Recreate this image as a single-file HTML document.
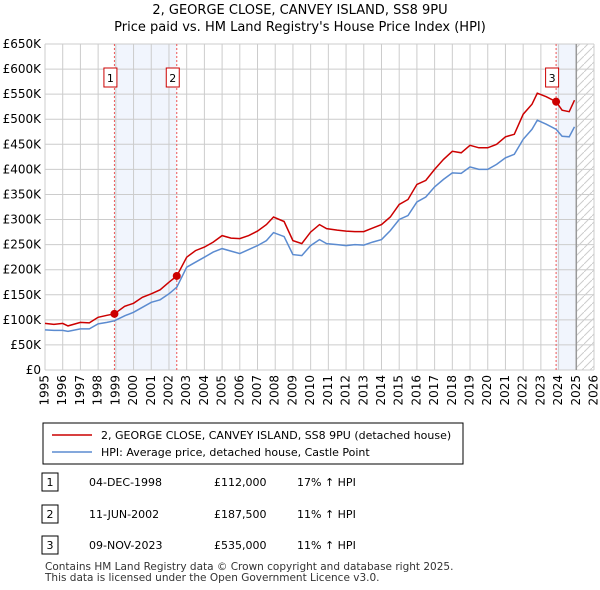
<!DOCTYPE html>
<html><head><meta charset="utf-8"><style>
body{margin:0;background:#fff;font-family:"DejaVu Sans","Liberation Sans",sans-serif;}
#wrap{position:relative;width:600px;height:590px;overflow:hidden}
svg text{font-family:"DejaVu Sans","Liberation Sans",sans-serif;}
</style></head><body><div id="wrap">
<svg id="c" width="600" height="590" style="position:absolute;left:0;top:0"></svg>
</div>
<script>
const years=[1995,1996,1997,1998,1999,2000,2001,2002,2003,2004,2005,2006,2007,2008,2009,2010,2011,2012,2013,2014,2015,2016,2017,2018,2019,2020,2021,2022,2023,2024,2025,2026];
const yTicks=[0,50,100,150,200,250,300,350,400,450,500,550,600,650];
const redT=[1995,1995.5,1996,1996.3,1997,1997.5,1998,1998.5,1998.92,1999.5,2000,2000.5,2001,2001.5,2002,2002.44,2003,2003.5,2004,2004.5,2005,2005.5,2006,2006.5,2007,2007.5,2007.9,2008.5,2009,2009.5,2010,2010.5,2010.9,2011.5,2012,2012.5,2013,2013.5,2014,2014.5,2015,2015.5,2016,2016.5,2017,2017.5,2018,2018.5,2019,2019.5,2020,2020.5,2021,2021.5,2022,2022.5,2022.8,2023.3,2023.86,2024.2,2024.6,2024.9];
const redV=[93,91,93,88,95,94,105,109,112,127,133,145,152,160,175,187.5,225,238,245,255,268,263,262,268,277,290,305,296,258,252,275,290,282,279,277,276,276,283,290,305,330,340,370,378,400,420,436,433,448,443,443,450,465,470,510,530,552,545,535,518,515,538];
const hpiV=[80,79,79,77,82,82,92,95,98,108,115,125,135,140,152,165,205,215,225,235,242,237,232,240,248,258,274,266,230,228,248,260,252,250,248,250,249,255,260,278,300,308,335,345,365,380,393,392,405,400,400,410,423,430,460,480,498,490,480,466,465,485];
const salesT=[1998.92,2002.44,2023.86];
const salesV=[112,187.5,535];
const X0=45,X1=594,Y0=370,Y1=44;
const x=t=>X0+(t-1995)/(2026-1995)*(X1-X0);
const y=v=>Y0-v/650*(Y0-Y1);
const svg=document.getElementById('c');
const NS='http://www.w3.org/2000/svg';
function mk(tag,a,p){const e=document.createElementNS(NS,tag);for(const k in a)e.setAttribute(k,a[k]);(p||svg).appendChild(e);return e;}
let e;
e=mk('rect',{x:x(salesT[0]),y:Y1,width:x(salesT[1])-x(salesT[0]),height:Y0-Y1,fill:'#f1f5fd'});


e=mk('rect',{x:x(salesT[2]),y:Y1,width:x(2025)-x(salesT[2]),height:Y0-Y1,fill:'#f1f5fd'});


const defs=mk('defs',{});
const pat=mk('pattern',{id:'h',width:8,height:8,patternUnits:'userSpaceOnUse'},defs);
mk('path',{d:'M0,8 L8,0',stroke:'#ccc','stroke-width':1},pat);
e=mk('rect',{x:x(2025),y:Y1,width:X1-x(2025),height:Y0-Y1,fill:'url(#h)'});


years.forEach(yr=>{mk('line',{x1:x(yr),x2:x(yr),y1:Y1,y2:Y0,stroke:'#ccc'});
 e=mk('text',{x:x(yr),y:Y0+5,'font-size':12,'text-anchor':'end','dominant-baseline':'middle',transform:`rotate(-90 ${x(yr)} ${Y0+5})`});e.textContent=yr;
 
 });
yTicks.forEach(v=>{mk('line',{x1:X0,x2:X1,y1:y(v),y2:y(v),stroke:'#ccc'});
 e=mk('text',{x:X0-4,y:y(v)+4,'font-size':12,'text-anchor':'end'});e.textContent=v===0?'£0':'£'+v+'K';
 
 });
mk('line',{x1:x(2025),x2:x(2025),y1:Y1,y2:Y0,stroke:'#999','stroke-width':1.5});
salesT.forEach((t,i)=>{mk('line',{x1:x(t),x2:x(t),y1:Y1,y2:Y0,stroke:'#e55','stroke-dasharray':'2,2'});});
function path(T,V){return T.map((t,i)=>(i?'L':'M')+x(t).toFixed(1)+','+y(V[i]).toFixed(1)).join('');}
e=mk('path',{d:path(redT,hpiV),fill:'none',stroke:'#5b8bd0','stroke-width':1.5});


e=mk('path',{d:path(redT,redV),fill:'none',stroke:'#cc0000','stroke-width':1.5});


salesT.forEach((t,i)=>{e=mk('circle',{cx:x(t),cy:y(salesV[i]),r:4,fill:'#cc0000'});
 
 
 const bx=x(t)-10.5;
 mk('rect',{x:bx,y:68,width:13,height:19,fill:'#fff',stroke:'#cc0000'});
 const tx=mk('text',{x:bx+6.5,y:82,'font-size':11,'text-anchor':'middle'});tx.textContent=i+1;
 
 });
e=mk('text',{x:300,y:14,'font-size':13,'text-anchor':'middle'});e.textContent='2, GEORGE CLOSE, CANVEY ISLAND, SS8 9PU';


e=mk('text',{x:300,y:31,'font-size':13,'text-anchor':'middle'});e.textContent="Price paid vs. HM Land Registry's House Price Index (HPI)";


e=mk('rect',{x:43,y:423,width:420,height:41,fill:'#fff',stroke:'#000'});


mk('line',{x1:52,x2:92,y1:435,y2:435,stroke:'#cc0000','stroke-width':1.5});
e=mk('text',{x:101,y:439,'font-size':11});e.textContent='2, GEORGE CLOSE, CANVEY ISLAND, SS8 9PU (detached house)';


mk('line',{x1:52,x2:92,y1:452,y2:452,stroke:'#5b8bd0','stroke-width':1.5});
e=mk('text',{x:101,y:456,'font-size':11});e.textContent='HPI: Average price, detached house, Castle Point';


const dates=['04-DEC-1998','11-JUN-2002','09-NOV-2023'],prices=['£112,000','£187,500','£535,000'],pct=['17% ↑ HPI','11% ↑ HPI','11% ↑ HPI'];
[482,514,545].forEach((ry,i)=>{mk('rect',{x:42,y:ry-9,width:16,height:18,fill:'#fff',stroke:'#000'});
 let t=mk('text',{x:50,y:ry+4,'font-size':11,'text-anchor':'middle'});t.textContent=i+1;
 t=mk('text',{x:89,y:ry+4,'font-size':11});t.textContent=dates[i];
 
 
 t=mk('text',{x:214,y:ry+4,'font-size':11});t.textContent=prices[i];
 
 
 t=mk('text',{x:297,y:ry+4,'font-size':11});t.textContent=pct[i];
 
 });
e=mk('text',{x:45,y:570,'font-size':10.5,fill:'#333'});e.textContent='Contains HM Land Registry data © Crown copyright and database right 2025.';


e=mk('text',{x:45,y:581,'font-size':10.5,fill:'#333'});e.textContent='This data is licensed under the Open Government Licence v3.0.';


</script></body></html>
